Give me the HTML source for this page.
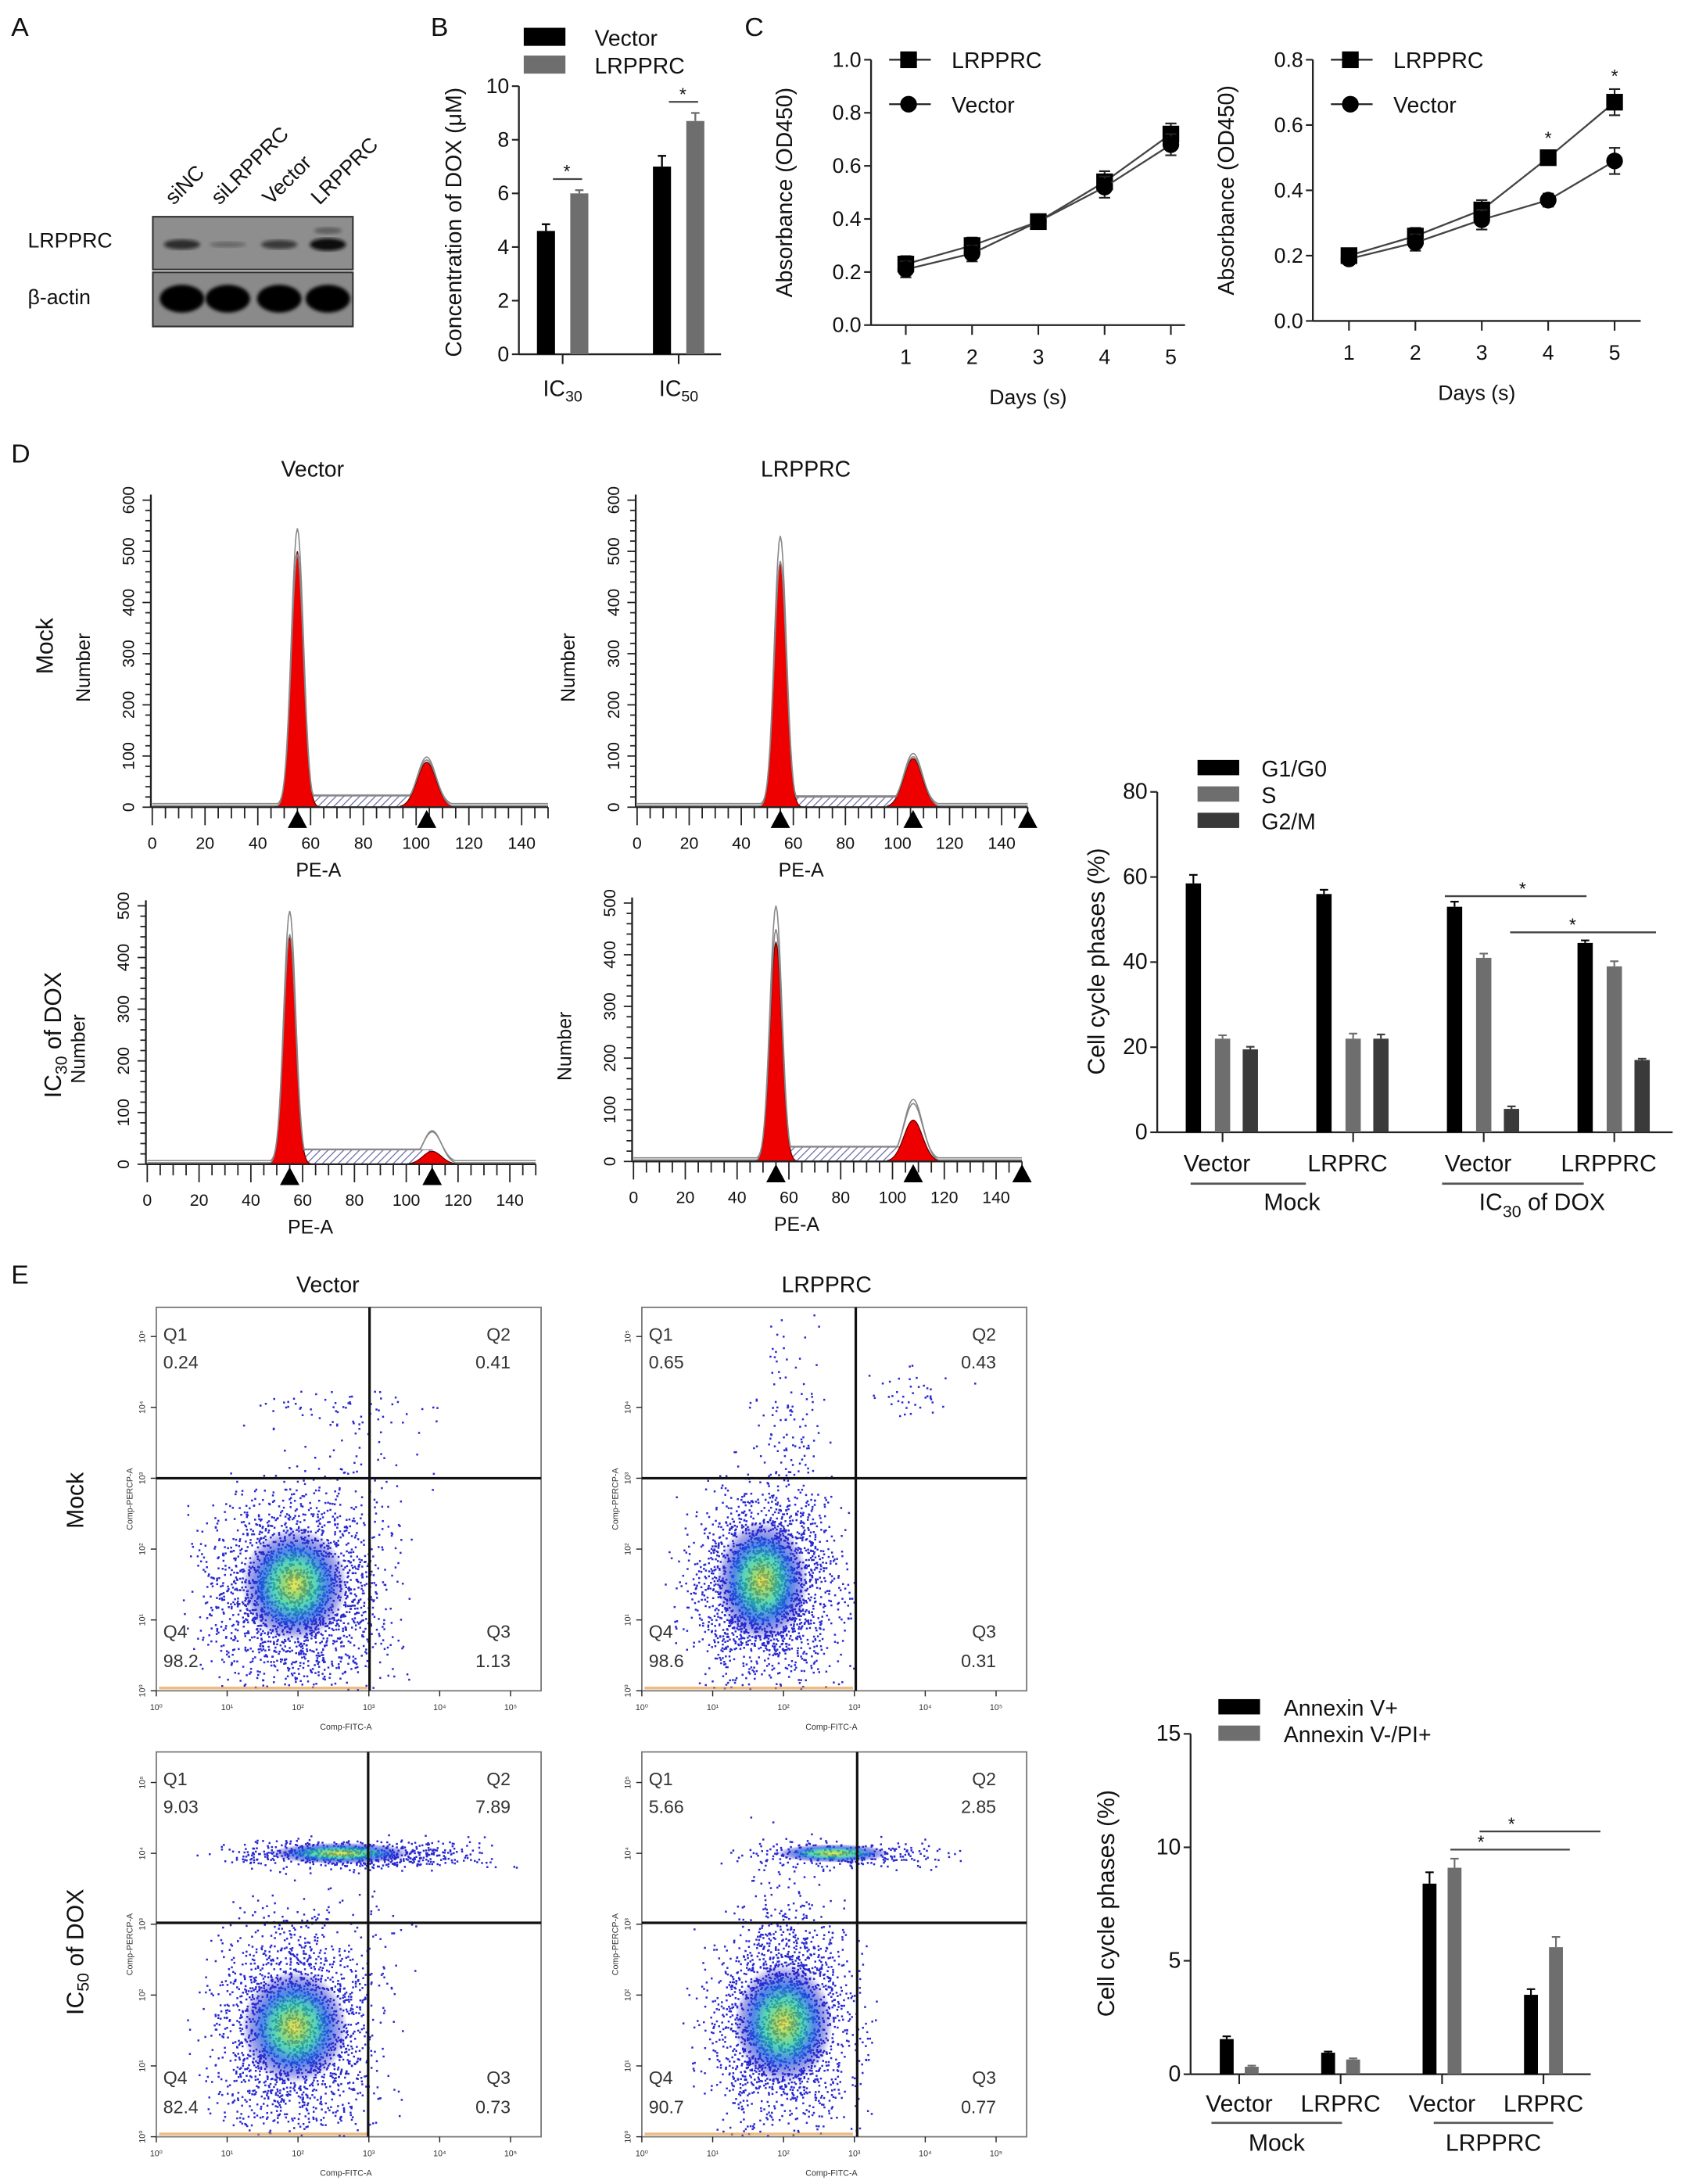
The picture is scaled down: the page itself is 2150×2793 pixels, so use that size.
<!DOCTYPE html>
<html><head><meta charset="utf-8"><style>
html,body{margin:0;padding:0;background:#fff;}
svg{display:block;font-family:"Liberation Sans",Arial,sans-serif;}
</style></head><body>
<svg id="fig" xmlns="http://www.w3.org/2000/svg" width="2150" height="2793" viewBox="0 0 1210 1572" preserveAspectRatio="none">
<defs>
<pattern id="hatch" width="4" height="4" patternUnits="userSpaceOnUse" patternTransform="rotate(45)"><rect width="4" height="4" fill="#fff"/><line x1="0" y1="0" x2="0" y2="4" stroke="#6a6aa8" stroke-width="1.4"/></pattern>
<radialGradient id="blob"><stop offset="0" stop-color="#e8e020"/><stop offset="0.18" stop-color="#7ed040"/><stop offset="0.4" stop-color="#20c8a0"/><stop offset="0.62" stop-color="#1a60e0"/><stop offset="0.85" stop-color="#2020c8" stop-opacity="0.5"/><stop offset="1" stop-color="#2020c8" stop-opacity="0"/></radialGradient>
<filter id="bl2"><feGaussianBlur stdDeviation="1.2"/></filter>
</defs>
<g id="root"></g>
</svg>
<script>
// ---------- DATA ----------
const bCats = ["IC30","IC50"];
const bVector = [4.6, 7.0];
const bVectorErr = [0.25, 0.4];
const bLrpprc = [6.0, 8.7];
const bLrpprcErr = [0.12, 0.3];
const bTicks = [0,2,4,6,8,10];

const cDays = [1,2,3,4,5];
const c1Lrpprc = [0.23,0.30,0.39,0.54,0.72];
const c1Vector = [0.21,0.27,0.39,0.52,0.68];
const c1Err = [0.03,0.03,0.015,0.04,0.04];
const c1Ticks = [0.0,0.2,0.4,0.6,0.8,1.0];
const c2Lrpprc = [0.20,0.26,0.34,0.50,0.67];
const c2Vector = [0.19,0.24,0.31,0.37,0.49];
const c2Err = [0.015,0.025,0.03,0.02,0.04];
const c2Ticks = [0.0,0.2,0.4,0.6,0.8];

// histogram peaks: [G1 pos, G1 height(red), outline height, G2 pos, G2 red, G2 outline, S level]
const hVectorMock = [55,500,545,104,88,98,22];
const hLrpprcMock = [55,480,530,106,95,105,20];
const hVectorDox = [55,440,490,110,25,65,28];
const hLrpprcDox = [55,425,495,108,80,120,28];
const hXTicks = [0,20,40,60,80,100,120,140];

const dGroups = ["Vector","LRPRC","Vector","LRPPRC"];
const dG1 = [58.5,56,53,44.5];
const dS = [22,22,41,39];
const dG2 = [19.5,22,5.5,17];
const dG1Err = [2,1,1.2,0.6];
const dSErr = [0.8,1.2,1,1.2];
const dG2Err = [0.6,1,0.6,0.3];
const dTicks = [0,20,40,60,80];

const eGroups = ["Vector","LRPRC","Vector","LRPRC"];
const eAnnex = [1.55,0.95,8.4,3.5];
const eAnnexErr = [0.12,0.05,0.5,0.25];
const ePI = [0.33,0.65,9.1,5.6];
const ePIErr = [0.05,0.05,0.4,0.45];
const eTicks = [0,5,10,15];

const qVM = ["0.24","0.41","1.13","98.2"];
const qLM = ["0.65","0.43","0.31","98.6"];
const qVD = ["9.03","7.89","0.73","82.4"];
const qLD = ["5.66","2.85","0.77","90.7"];

// ---------- helpers ----------
const NS="http://www.w3.org/2000/svg";
const root=document.getElementById('root');
function mk(tag,attrs,name,parent){
  const e=document.createElementNS(NS,tag);
  for(const k in attrs) e.setAttribute(k,attrs[k]);
  
  
  (parent||root).appendChild(e); return e;
}
function txt(x,y,s,size,name,opt){
  opt=opt||{};
  const t=mk('text',{x:x,y:y,'font-size':size,'text-anchor':opt.anchor||'middle',fill:opt.fill||'#111','font-weight':opt.weight||'normal'},name,opt.parent);
  if(opt.rot) t.setAttribute('transform','rotate('+opt.rot+' '+x+' '+y+')');
  if(opt.html) t.innerHTML=s; else t.textContent=s;
  return t;
}
function line(x1,y1,x2,y2,name,w,c){return mk('line',{x1:x1,y1:y1,x2:x2,y2:y2,stroke:c||'#222','stroke-width':w||1.2},name);}
function lin(d0,d1,r0,r1){return v=>r0+(v-d0)*(r1-r0)/(d1-d0);}

txt(8,26,"A",19,'panel-label-a',{anchor:'start'});
txt(310,26,"B",19,'panel-label-b',{anchor:'start'});
txt(536,26,"C",19,'panel-label-c',{anchor:'start'});
txt(8,333,"D",19,'panel-label-d',{anchor:'start'});
txt(8,924,"E",19,'panel-label-e',{anchor:'start'});

// ---------- A ----------
(function(){
  const lanes=["siNC","siLRPPRC","Vector","LRPPRC"];
  const lx=[131,164,201,236];
  lanes.forEach((l,i)=>txt(lx[i]-6,148,l,15,'lane-label',{anchor:'start',rot:-45}));
  mk('rect',{x:110,y:156,width:144,height:38,fill:'#8e8e8e',stroke:'#333','stroke-width':1.2},'blot-lrpprc');
  mk('rect',{x:110,y:196,width:144,height:39,fill:'#8a8a8a',stroke:'#333','stroke-width':1.2},'blot-actin');
  const bandA=[0.75,0.3,0.65,1.0];
  lx.forEach((x,i)=>{
    mk('ellipse',{cx:x,cy:176,rx:13,ry:3.5*bandA[i]+1,fill:'#111',opacity:bandA[i],filter:'url(#bl2)'},'band-lrpprc');
    mk('ellipse',{cx:x,cy:215,rx:16,ry:10,fill:'#050505',filter:'url(#bl2)'},'band-actin');
  });
  mk('ellipse',{cx:236,cy:166,rx:10,ry:2.5,fill:'#333',opacity:0.5,filter:'url(#bl2)'},'band-extra');
  txt(20,178,"LRPPRC",15,'row-label-lrpprc',{anchor:'start'});
  txt(20,219,"β-actin",15,'row-label-actin',{anchor:'start'});
})();

function axisY(x,ys,ticks,fmt,size,name){
  line(x,ys(ticks[0]),x,ys(ticks[ticks.length-1]),name+'-line',1.3);
  ticks.forEach(t=>{line(x-5,ys(t),x,ys(t),name+'-tick',1.2);txt(x-7,ys(t)+5,fmt(t),size,name+'-label',{anchor:'end'});});
}

// ---------- B ----------
(function(){
  const ys=lin(0,10,255,62);
  axisY(373.5,ys,bTicks,t=>String(t),15,'b-y-axis');
  line(373.5,255,519,255,'b-x-axis',1.3);
  bCats.forEach((c,i)=>{
    const cx=405+i*83.5;
    line(cx,255,cx,262,'b-x-tick',1.2);
    const series=[[bVector,bVectorErr,'#000',-12],[bLrpprc,bLrpprcErr,'#6e6e6e',12]];
    series.forEach(s=>{
      const v=s[0][i],e=s[1][i],bx=cx+s[3];
      mk('rect',{x:bx-6.5,y:ys(v),width:13,height:255-ys(v),fill:s[2]},'b-bar');
      line(bx,ys(v),bx,ys(v+e),'b-error',1.3,s[2]);line(bx-3,ys(v+e),bx+3,ys(v+e),'b-error-cap',1.3,s[2]);
    });
    const top=ys(Math.max(bVector[i]+bVectorErr[i],bLrpprc[i]+bLrpprcErr[i]))-8;
    line(cx-7,top,cx+14,top,'b-sig-line',1.3,'#444');
    txt(cx+3,top-1,"*",13,'b-sig-star');
    txt(cx,285,'IC<tspan font-size="11" dy="4">'+c.slice(2)+'</tspan>',16,'b-x-label',{html:true});
  });
  txt(332,160,"Concentration of DOX (μM)",16,'b-y-title',{rot:-90});
  mk('rect',{x:377,y:20,width:30,height:13,fill:'#000'},'b-legend-swatch-vector');
  txt(428,33,"Vector",16,'b-legend-vector',{anchor:'start'});
  mk('rect',{x:377,y:40,width:30,height:13,fill:'#6e6e6e'},'b-legend-swatch-lrpprc');
  txt(428,53,"LRPPRC",16,'b-legend-lrpprc',{anchor:'start'});
})();

// ---------- C ----------
function lineChart(ax,x1,xs0,xsStep,top,bottom,ticks,ser1,ser2,err,pfx){
  const ys=lin(0,ticks[ticks.length-1],bottom,top);
  axisY(ax,ys,ticks,t=>t.toFixed(1),15,pfx+'-y-axis');
  line(ax,bottom,x1,bottom,pfx+'-x-axis',1.3);
  const xs=d=>xs0+(d-1)*xsStep;
  cDays.forEach(d=>{line(xs(d),bottom,xs(d),bottom+7,pfx+'-x-tick',1.2);txt(xs(d),bottom+28,String(d),15,pfx+'-x-label');});
  [[ser1,'sq'],[ser2,'ci']].forEach(s=>{
    const pts=cDays.map((d,i)=>xs(d)+','+ys(s[0][i])).join(' ');
    mk('polyline',{points:pts,fill:'none',stroke:'#444','stroke-width':1.3},pfx+'-line-'+s[1]);
    cDays.forEach((d,i)=>{
      const x=xs(d),y=ys(s[0][i]),e=err[i]*(bottom-top)/ticks[ticks.length-1];
      line(x,y-e,x,y+e,pfx+'-error',1.2);line(x-4,y-e,x+4,y-e,pfx+'-error-cap',1.2);line(x-4,y+e,x+4,y+e,pfx+'-error-cap',1.2);
      if(s[1]=='sq') mk('rect',{x:x-6,y:y-6,width:12,height:12,fill:'#000'},pfx+'-point-lrpprc');
      else mk('circle',{cx:x,cy:y,r:6,fill:'#000'},pfx+'-point-vector');
    });
  });
  txt((ax+x1)/2,bottom+57,"Days (s)",15,pfx+'-x-title');
  txt(ax-57,(top+bottom)/2,"Absorbance (OD450)",16,pfx+'-y-title',{rot:-90});
  const lx=ax+27;
  line(lx-14,top,lx+16,top,pfx+'-legend-line',1.3);mk('rect',{x:lx-6,y:top-6,width:12,height:12,fill:'#000'},pfx+'-legend-sq');
  txt(lx+31,top+6,"LRPPRC",16,pfx+'-legend-lrpprc',{anchor:'start'});
  line(lx-14,top+32,lx+16,top+32,pfx+'-legend-line',1.3);mk('circle',{cx:lx,cy:top+32,r:6,fill:'#000'},pfx+'-legend-ci');
  txt(lx+31,top+38,"Vector",16,pfx+'-legend-vector',{anchor:'start'});
  return {xs,ys};
}
lineChart(627,853,652,47.7,43,234,c1Ticks,c1Lrpprc,c1Vector,c1Err,'c1');
const c2=lineChart(945,1181,971,47.8,43,231,c2Ticks,c2Lrpprc,c2Vector,c2Err,'c2');
[3,4].forEach(i=>txt(c2.xs(cDays[i]),c2.ys(c2Lrpprc[i]+c2Err[i])-5,"*",13,'c2-sig-star'));

// ---------- D histograms ----------
function hist(ax,x140,y0,yTop,yMax,yTicks,p,rightTri,pfx){
  const xs=lin(0,140,ax+1,x140), ys=lin(0,yMax,y0,yTop);
  const g=(x,m,h,s)=>h*Math.exp(-0.5*((x-m)/s)*((x-m)/s));
  let sp=[];for(let x=p[0];x<=p[3];x+=1){sp.push(xs(x)+','+ys(p[6]));}
  mk('polygon',{points:xs(p[0])+','+y0+' '+sp.join(' ')+' '+xs(p[3])+','+y0,fill:'url(#hatch)',stroke:'#777','stroke-width':0.6},pfx+'-s-phase');
  [[p[0],p[1],2.3],[p[3],p[4],3.6]].forEach(pk=>{
    let pts=[];for(let x=pk[0]-10;x<=pk[0]+10;x+=0.5) pts.push(xs(x)+','+ys(g(x,pk[0],pk[1],pk[2])));
    mk('polygon',{points:xs(pk[0]-10)+','+y0+' '+pts.join(' ')+' '+xs(pk[0]+10)+','+y0,fill:'#ee0000',stroke:'#600','stroke-width':0.7},pfx+'-peak');
  });
  [[1,0],[0.9,1.5]].forEach(o=>{
    let pts=[];
    for(let x=0;x<=150;x+=0.5){
      let s=(x>p[0]&&x<p[3])?p[6]*o[0]:0;
      let v=Math.max(g(x,p[0],p[2]*o[0],2.3),g(x,p[3],p[5]*o[0],3.6),s,3);
      pts.push(xs(x)+','+(ys(v)-o[1]));
    }
    mk('polyline',{points:pts.join(' '),fill:'none',stroke:'#888','stroke-width':0.9},pfx+'-outline');
  });
  line(ax,y0,ax,ys(yTicks[yTicks.length-1])-4,pfx+'-y-axis',1.3);
  line(ax,y0,xs(150),y0,pfx+'-x-axis',1.3);
  for(let v=0;v<=yTicks[yTicks.length-1]+20;v+=20){ if(ys(v)<ys(yTicks[yTicks.length-1])-6) break; line(ax-(v%100==0?6:4),ys(v),ax,ys(v),pfx+'-y-tick',1);}
  yTicks.forEach(t=>txt(ax-12,ys(t),String(t),12,pfx+'-y-label',{rot:-90}));
  for(let v=0;v<=150;v+=5) line(xs(v),y0,xs(v),y0+(v%20==0?13:8),pfx+'-x-tick',1);
  hXTicks.forEach(t=>txt(xs(t),y0+30,String(t),12,pfx+'-x-label'));
  txt(xs(63),y0+50,"PE-A",14,pfx+'-x-title');
  txt(ax-44,(y0+yTop)/2+10,"Number",14,pfx+'-y-title',{rot:-90});
  const tri=[p[0],p[3]];if(rightTri) tri.push(150);
  tri.forEach(v=>mk('polygon',{points:(xs(v)-7)+','+(y0+15)+' '+(xs(v)+7)+','+(y0+15)+' '+xs(v)+','+(y0+2),fill:'#000'},pfx+'-marker'));
}
hist(108.6,375.5,581,360,600,[0,100,200,300,400,500,600],hVectorMock,false,'d-hist-vector-mock');
hist(457.6,721,581,360,600,[0,100,200,300,400,500,600],hLrpprcMock,true,'d-hist-lrpprc-mock');
hist(105,367,838,652,500,[0,100,200,300,400,500],hVectorDox,false,'d-hist-vector-dox');
hist(455,717,836,650,500,[0,100,200,300,400,500],hLrpprcDox,true,'d-hist-lrpprc-dox');
txt(225,343,"Vector",16,'d-col-title-vector');
txt(580,343,"LRPPRC",16,'d-col-title-lrpprc');
txt(38,465,"Mock",17,'d-row-title-mock',{rot:-90});
txt(44,745,'IC<tspan font-size="12" dy="4">30</tspan><tspan dy="-4"> of DOX</tspan>',17,'d-row-title-dox',{rot:-90,html:true});

// ---------- D bar chart ----------
(function(){
  const ys=lin(0,80,815,570);
  axisY(833,ys,dTicks,t=>String(t),16,'d-bar-y-axis');
  line(833,815,1204,815,'d-bar-x-axis',1.3);
  const ser=[[dG1,dG1Err,'#000',-21],[dS,dSErr,'#6e6e6e',0],[dG2,dG2Err,'#3a3a3a',20]];
  dGroups.forEach((gname,i)=>{
    const cx=880+i*94;
    line(cx,815,cx,822,'d-bar-x-tick',1.2);
    ser.forEach(s=>{
      const v=s[0][i],e=s[1][i],bx=cx+s[3];
      mk('rect',{x:bx-5.5,y:ys(v),width:11,height:815-ys(v),fill:s[2]},'d-bar');
      line(bx,ys(v),bx,ys(v+e),'d-bar-error',1.2,s[2]);line(bx-3,ys(v+e),bx+3,ys(v+e),'d-bar-error-cap',1.2,s[2]);
    });
    txt(cx-4,843,gname,17,'d-bar-x-label');
  });
  line(857,852,940,852,'d-group-line-mock',1.5,'#555');
  txt(930,871,"Mock",17,'d-group-label-mock');
  line(1038,852,1140,852,'d-group-line-dox',1.5,'#555');
  txt(1110,871,'IC<tspan font-size="12" dy="5">30</tspan><tspan dy="-5"> of DOX</tspan>',17,'d-group-label-dox',{html:true});
  line(1040,ys(55.5),1142,ys(55.5),'d-sig-line',1.3,'#444');txt(1096,ys(55.5)-1,"*",13,'d-sig-star');
  line(1087,ys(47),1192,ys(47),'d-sig-line',1.3,'#444');txt(1132,ys(47)-1,"*",13,'d-sig-star');
  txt(795,692,"Cell cycle phases (%)",17,'d-bar-y-title',{rot:-90});
  const lg=[["G1/G0",'#000'],["S",'#6e6e6e'],["G2/M",'#3a3a3a']];
  lg.forEach((l,i)=>{mk('rect',{x:862,y:547+i*19,width:30,height:11,fill:l[1]},'d-legend-swatch');txt(908,559+i*19,l[0],16,'d-legend-label',{anchor:'start'});});
})();

// ---------- E scatter ----------
let seed=12345;
function rnd(){seed=(seed*1103515245+12345)%2147483648;return seed/2147483648;}
function gauss(){return (rnd()+rnd()+rnd()-1.5)/0.5;}
const cluVM=[[1.95,1.4,0.6,0.65,2200],[2.7,3.95,0.6,0.15,60],[2.6,2.8,0.5,0.6,90]];
const cluLM=[[1.75,1.5,0.5,0.65,2200],[2.1,3.7,0.25,0.7,140],[3.7,4.2,0.35,0.2,40]];
const cluVD=[[1.95,1.5,0.55,0.7,2000],[2.8,4.0,0.85,0.1,700],[2.4,2.8,0.6,0.5,100]];
const cluLD=[[2.0,1.6,0.5,0.7,2000],[2.9,4.0,0.7,0.1,300],[2.0,2.9,0.3,0.6,160]];
const blobVM=[[1.95,1.5,0.75,0.8]];
const blobLM=[[1.7,1.55,0.65,0.85]];
const blobVD=[[1.95,1.55,0.75,0.8],[2.6,4.0,1.0,0.15]];
const blobLD=[[2.0,1.6,0.7,0.85],[2.7,4.0,0.8,0.13]];
function scatter(bx,by,bw,bh,vx,hy,clus,blobs,q,pfx){
  const X=v=>bx+v*51, Y=v=>by+bh-v*51;
  mk('rect',{x:bx,y:by,width:bw,height:bh,fill:'#fff',stroke:'#777','stroke-width':1},pfx+'-box');
  const g=mk('g',{fill:'#2828d0'},pfx+'-dots');
  clus.forEach(c=>{for(let k=0;k<c[4];k++){
    const x=X(c[0]+gauss()*c[2]),y=Y(c[1]+gauss()*c[3]);
    if(x<bx+1||x>bx+bw-1||y<by+1||y>by+bh-1) continue;
    const r=document.createElementNS(NS,'rect');r.setAttribute('x',x);r.setAttribute('y',y);r.setAttribute('width',1.4);r.setAttribute('height',1.4);g.appendChild(r);
  }});
  blobs.forEach(b=>mk('ellipse',{cx:X(b[0]),cy:Y(b[1]),rx:b[2]*51,ry:b[3]*51,fill:'url(#blob)',opacity:0.75},pfx+'-density'));
  mk('rect',{x:bx+2,y:by+bh-3,width:150,height:2,fill:'#e09030',opacity:0.6},pfx+'-baseline');
  line(vx,by,vx,by+bh,pfx+'-gate-v',1.8,'#111');
  line(bx,hy,bx+bw,hy,pfx+'-gate-h',1.8,'#111');
  txt(bx+5,by+24,"Q1",13,pfx+'-q1',{anchor:'start',fill:'#333'});
  txt(bx+5,by+44,q[0],13,pfx+'-q1-value',{anchor:'start',fill:'#333'});
  txt(bx+bw-22,by+24,"Q2",13,pfx+'-q2',{anchor:'end',fill:'#333'});
  txt(bx+bw-22,by+44,q[1],13,pfx+'-q2-value',{anchor:'end',fill:'#333'});
  txt(bx+bw-22,by+bh-38,"Q3",13,pfx+'-q3',{anchor:'end',fill:'#333'});
  txt(bx+bw-22,by+bh-17,q[2],13,pfx+'-q3-value',{anchor:'end',fill:'#333'});
  txt(bx+5,by+bh-38,"Q4",13,pfx+'-q4',{anchor:'start',fill:'#333'});
  txt(bx+5,by+bh-17,q[3],13,pfx+'-q4-value',{anchor:'start',fill:'#333'});
  for(let d=0;d<=5;d++){
    line(X(d),by+bh,X(d),by+bh+4,pfx+'-x-tick',0.8);
    line(bx-4,Y(d),bx,Y(d),pfx+'-y-tick',0.8);
    txt(X(d),by+bh+14,'10'+'⁰¹²³⁴⁵'[d],6,pfx+'-x-label',{fill:'#333'});
    txt(bx-8,Y(d),'10'+'⁰¹²³⁴⁵'[d],6,pfx+'-y-label',{fill:'#333',rot:-90});
  }
  txt(bx+bw/2-2,by+bh+28,"Comp-FITC-A",6,pfx+'-x-title',{fill:'#333'});
  txt(bx-17,by+bh/2,"Comp-PERCP-A",6,pfx+'-y-title',{fill:'#333',rot:-90});
}
scatter(112.5,941,277,276,266,1064,cluVM,blobVM,qVM,'e-flow-vector-mock');
scatter(462,941,277,276,616,1064,cluLM,blobLM,qLM,'e-flow-lrpprc-mock');
scatter(112.5,1261,277,277,265,1384,cluVD,blobVD,qVD,'e-flow-vector-dox');
scatter(462,1261,277,277,617,1384,cluLD,blobLD,qLD,'e-flow-lrpprc-dox');
txt(236,930,"Vector",16,'e-col-title-vector');
txt(595,930,"LRPPRC",16,'e-col-title-lrpprc');
txt(60,1080,"Mock",17,'e-row-title-mock',{rot:-90});
txt(60,1405,'IC<tspan font-size="12" dy="4">50</tspan><tspan dy="-4"> of DOX</tspan>',17,'e-row-title-dox',{rot:-90,html:true});

// ---------- E bar chart ----------
(function(){
  const ys=lin(0,15,1493,1248);
  axisY(857,ys,eTicks,t=>String(t),16,'e-bar-y-axis');
  line(857,1493,1145,1493,'e-bar-x-axis',1.3);
  const ser=[[eAnnex,eAnnexErr,'#000',-9],[ePI,ePIErr,'#6e6e6e',9]];
  eGroups.forEach((gname,i)=>{
    const cx=892+i*73;
    line(cx,1493,cx,1500,'e-bar-x-tick',1.2);
    ser.forEach(s=>{
      const v=s[0][i],e=s[1][i],bx=cx+s[3];
      mk('rect',{x:bx-5,y:ys(v),width:10,height:1493-ys(v),fill:s[2]},'e-bar');
      line(bx,ys(v),bx,ys(v+e),'e-bar-error',1.2,s[2]);line(bx-3,ys(v+e),bx+3,ys(v+e),'e-bar-error-cap',1.2,s[2]);
    });
    txt(cx,1520,gname,17,'e-bar-x-label');
  });
  line(872,1528,966,1528,'e-group-line-mock',1.5,'#555');
  txt(919,1548,"Mock",17,'e-group-label-mock');
  line(1032,1528,1118,1528,'e-group-line-lrpprc',1.5,'#555');
  txt(1075,1548,"LRPPRC",17,'e-group-label-lrpprc');
  line(1044,ys(9.9),1130,ys(9.9),'e-sig-line',1.3,'#444');txt(1066,ys(9.9)-1,"*",13,'e-sig-star');
  line(1065,ys(10.7),1152,ys(10.7),'e-sig-line',1.3,'#444');txt(1088,ys(10.7)-1,"*",13,'e-sig-star');
  txt(802,1370,"Cell cycle phases (%)",17,'e-bar-y-title',{rot:-90});
  mk('rect',{x:877,y:1223,width:30,height:11,fill:'#000'},'e-legend-swatch');
  txt(924,1235,"Annexin V+",16,'e-legend-annexin',{anchor:'start'});
  mk('rect',{x:877,y:1242,width:30,height:11,fill:'#6e6e6e'},'e-legend-swatch');
  txt(924,1254,"Annexin V-/PI+",16,'e-legend-pi',{anchor:'start'});
})();
</script>
</body></html>
